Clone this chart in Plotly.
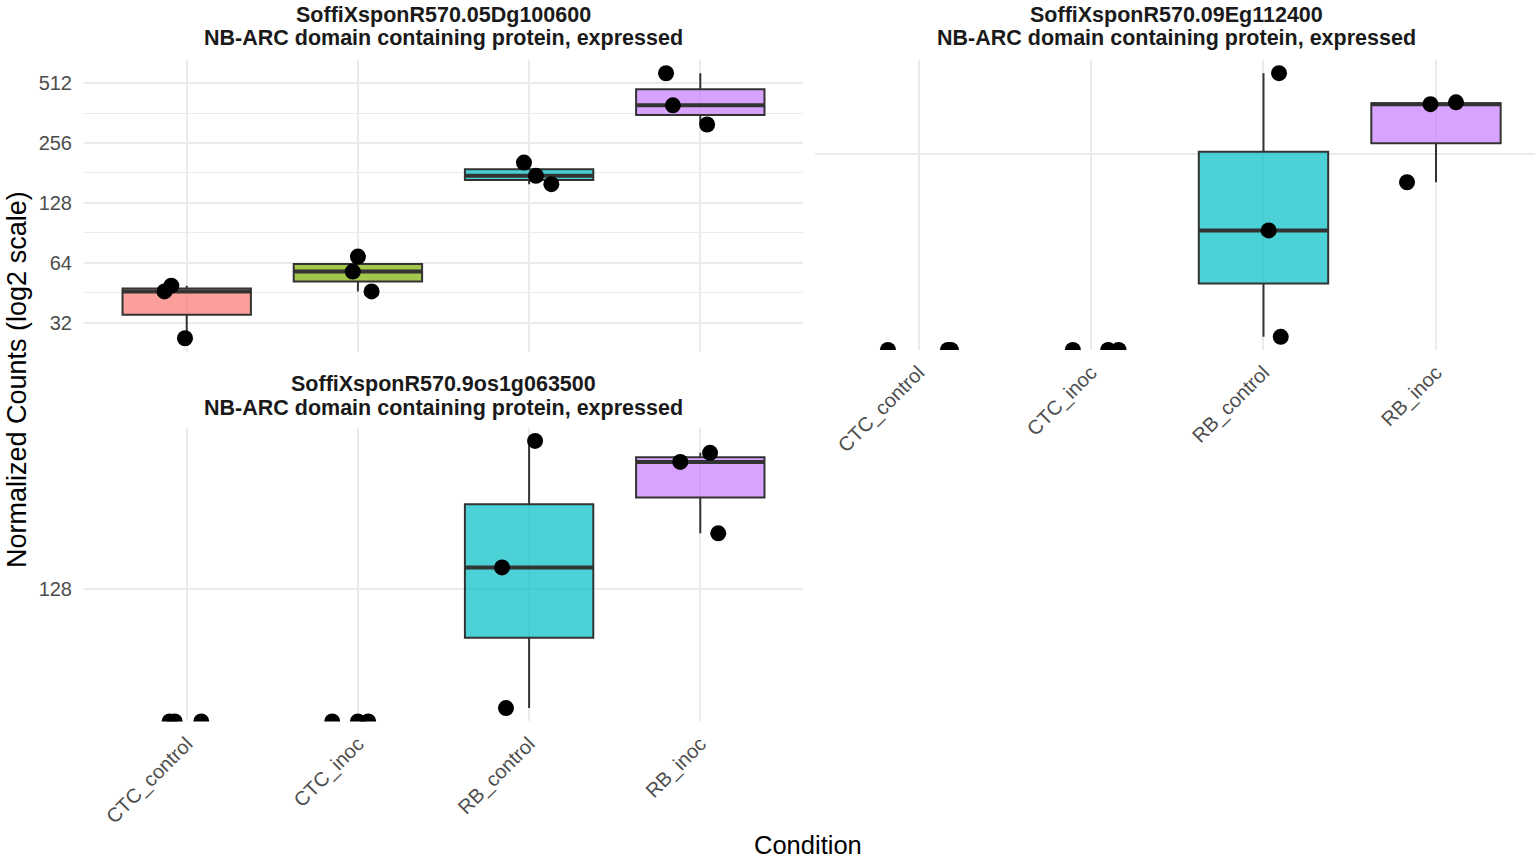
import numpy as np
import plotly.graph_objects as go

conditions = ["CTC_control", "CTC_inoc", "RB_control", "RB_inoc"]
fill_colors = ["rgba(248,118,109,0.7)", "rgba(124,174,0,0.7)", "rgba(0,191,196,0.7)", "rgba(199,124,255,0.7)"]

gene_ids = ["SoffiXsponR570.05Dg100600", "SoffiXsponR570.09Eg112400", "SoffiXsponR570.9os1g063500"]
gene_desc = "NB-ARC domain containing protein, expressed"

# normalized counts, 3 replicates per condition (0 = not detected)
g1_counts = [[45.9, 49.1, 26.7], [68.7, 57.8, 45.9], [204, 175, 159], [574, 396, 317]]
g2_counts = [[0, 0, 0], [0, 0, 0], [340, 196, 135], [232, 305, 307]]
g3_counts = [[0, 0, 0], [0, 0, 0], [214.5, 138, 84.5], [199.4, 205.8, 155.4]]

# horizontal jitter of each replicate (category units)
g1_jitter = [[-0.13, -0.09, -0.01], [0.0, -0.03, 0.08], [-0.03, 0.04, 0.13], [-0.20, -0.16, 0.04]]
g2_jitter = [[-0.177, 0.171, 0.188], [-0.105, 0.10, 0.16], [0.09, 0.03, 0.10], [-0.168, -0.032, 0.116]]
g3_jitter = [[-0.10, -0.07, 0.085], [-0.15, 0.0, 0.06], [0.035, -0.158, -0.135], [-0.117, 0.057, 0.105]]

y_breaks = [32, 64, 128, 256, 512]
y_minor = [22.63, 45.25, 90.51, 181.02, 362.04, 724.08]

W, H = 1535, 861
FONT = "Liberation Sans, Arial"
panels = [
    dict(counts=g1_counts, jit=g1_jitter, px=(84, 803), py=(60, 351.5), xmax=3.6, labels_x=False, labels_y=True, minor=True, title_y=(15, 38), title_x=443.5),
    dict(counts=g2_counts, jit=g2_jitter, px=(815, 1535), py=(60, 350), xmax=3.574, labels_x=True, labels_y=False, minor=False, title_y=(15, 38), title_x=1176),
    dict(counts=g3_counts, jit=g3_jitter, px=(84, 803), py=(427.6, 721.4), xmax=3.6, labels_x=True, labels_y=True, minor=False, title_y=(384, 408), title_x=443.5),
]


def box_stats(vals):
    v = np.log2(np.array([x for x in vals if x > 0], dtype=float))
    q1, med, q3 = np.percentile(v, [25, 50, 75])
    iqr = q3 - q1
    lo = v[v >= q1 - 1.5 * iqr].min()
    hi = v[v <= q3 + 1.5 * iqr].max()
    return [2 ** q1, 2 ** med, 2 ** q3, 2 ** lo, 2 ** hi]


fig = go.Figure()
layout = dict()
annotations = []
LINE = "#333333"
GRID = "#EBEBEB"

for p_i, p in enumerate(panels):
    n = p_i + 1
    xa = "x" if n == 1 else f"x{n}"
    ya = "y" if n == 1 else f"y{n}"
    counts = p["counts"]
    finite = np.log2([v for grp in counts for v in grp if v > 0])
    lo2, hi2 = finite.min(), finite.max()
    span = hi2 - lo2
    lo2e, hi2e = lo2 - 0.05 * span, hi2 + 0.05 * span
    ymin = 2 ** lo2e

    for ci, grp in enumerate(counts):
        pos = [v for v in grp if v > 0]
        if len(pos) == len(grp):
            q1, med, q3, lf, uf = box_stats(grp)
            fig.add_trace(go.Box(
                x=[ci], q1=[q1], median=[med], q3=[q3], lowerfence=[lf], upperfence=[uf],
                width=0.75, whiskerwidth=0, fillcolor=fill_colors[ci],
                line=dict(color=LINE, width=2), boxpoints=False,
                xaxis=xa, yaxis=ya, showlegend=False, hoverinfo="skip"))
            fig.add_trace(go.Scatter(
                x=[ci - 0.375, ci + 0.375], y=[med, med], mode="lines",
                line=dict(color=LINE, width=4), xaxis=xa, yaxis=ya,
                showlegend=False, hoverinfo="skip"))
    for ci, grp in enumerate(counts):
        xs = [ci + j for j in p["jit"][ci]]
        ys = [v if v > 0 else ymin for v in grp]
        fig.add_trace(go.Scatter(
            x=xs, y=ys, mode="markers", marker=dict(color="black", size=16),
            xaxis=xa, yaxis=ya, showlegend=False, hoverinfo="skip", cliponaxis=True))

    x0, x1 = p["px"]
    t0, b0 = p["py"]
    xdom = [x0 / W, min(x1 / W, 1.0)]
    ydom = [1 - b0 / H, 1 - t0 / H]
    xkey = "xaxis" if n == 1 else f"xaxis{n}"
    ykey = "yaxis" if n == 1 else f"yaxis{n}"
    layout[xkey] = dict(
        domain=xdom, anchor=ya, range=[-0.6, p["xmax"]], tickmode="array",
        tickvals=list(range(len(conditions))), ticktext=conditions,
        showticklabels=p["labels_x"], tickangle=-45, showgrid=True, gridcolor=GRID, gridwidth=1.5,
        zeroline=False, showline=False, ticks="", ticklabelstandoff=6,
        tickfont=dict(family=FONT, size=20, color="#4D4D4D"))
    ydict = dict(
        domain=ydom, anchor=xa, type="log",
        range=[lo2e * np.log10(2), hi2e * np.log10(2)], tickmode="array",
        tickvals=y_breaks, ticktext=[str(b) for b in y_breaks],
        showticklabels=p["labels_y"], showgrid=True, gridcolor=GRID, gridwidth=1.5,
        zeroline=False, showline=False, ticks="", ticklabelstandoff=11,
        tickfont=dict(family=FONT, size=20, color="#4D4D4D"))
    if p["minor"]:
        ydict["minor"] = dict(tickmode="array", tickvals=y_minor, showgrid=True,
                              gridcolor=GRID, gridwidth=1, ticks="")
    layout[ykey] = ydict

    for line_text, ly in zip([gene_ids[p_i], gene_desc], p["title_y"]):
        annotations.append(dict(
            x=p["title_x"] / W, y=1 - ly / H, xref="paper", yref="paper",
            xanchor="center", yanchor="middle",
            text=f"<b>{line_text}</b>", showarrow=False,
            font=dict(family=FONT, size=21.5, color="#1A1A1A")))

annotations.append(dict(
    x=17 / W, y=1 - 380 / H, xref="paper", yref="paper", xanchor="center", yanchor="middle",
    text="Normalized Counts (log2 scale)", textangle=-90, showarrow=False,
    font=dict(family=FONT, size=27, color="black")))
annotations.append(dict(
    x=808 / W, y=1 - 845 / H, xref="paper", yref="paper", xanchor="center", yanchor="middle",
    text="Condition", showarrow=False,
    font=dict(family=FONT, size=25.5, color="black")))

fig.update_layout(
    width=W, height=H, margin=dict(l=0, r=0, t=0, b=0),
    paper_bgcolor="white", plot_bgcolor="white", showlegend=False,
    annotations=annotations, **layout)

fig.write_html("out.html", config={"displayModeBar": False},
               post_script="document.body.style.margin='0';document.body.style.overflow='hidden';")
